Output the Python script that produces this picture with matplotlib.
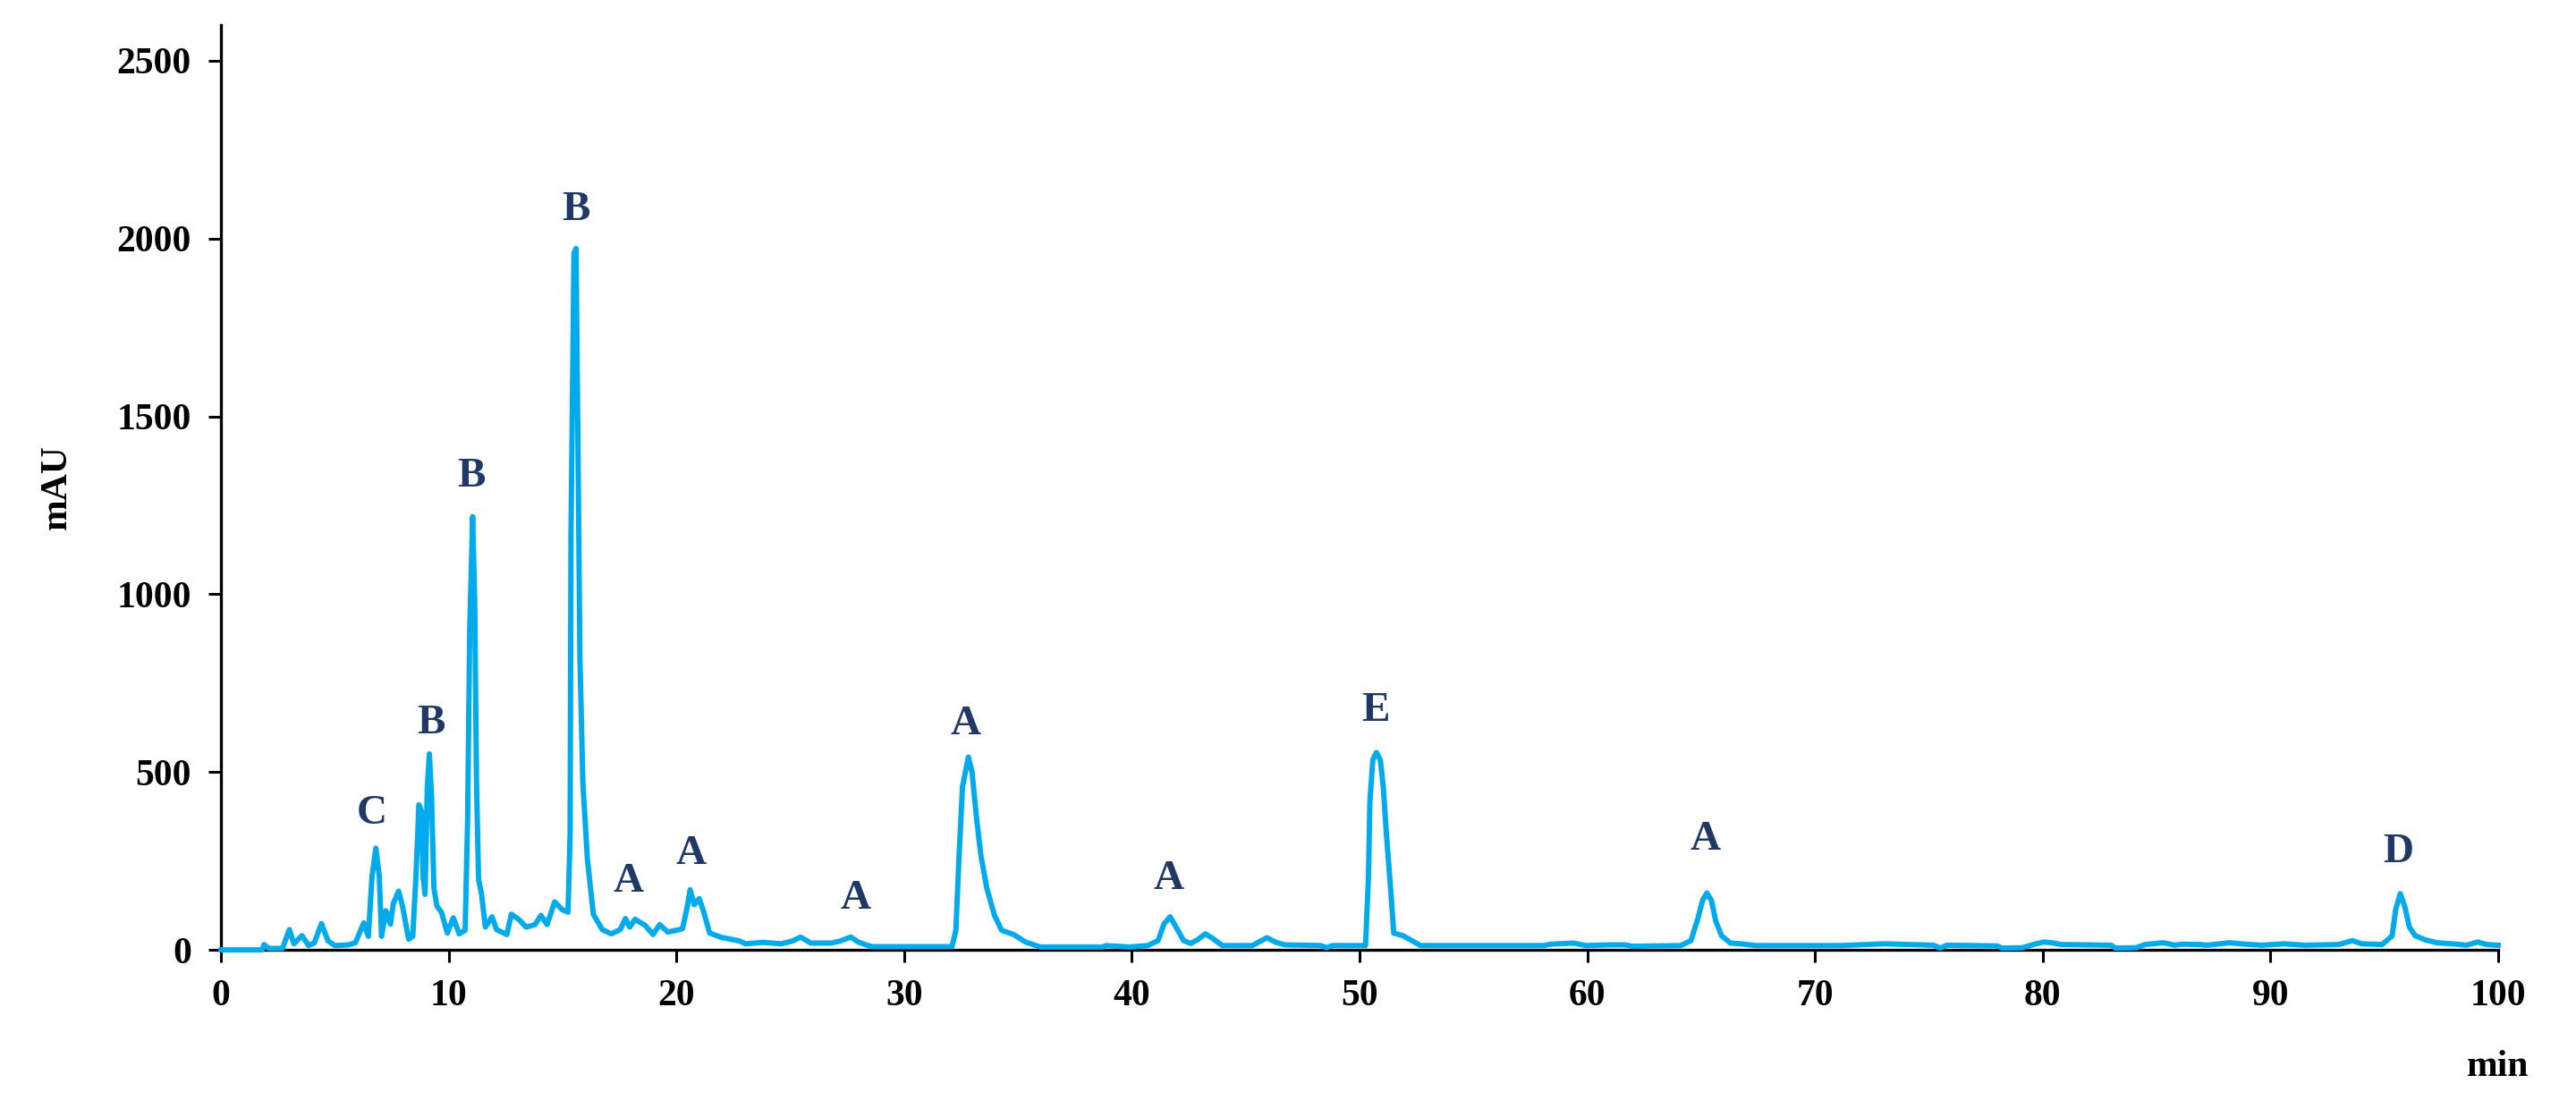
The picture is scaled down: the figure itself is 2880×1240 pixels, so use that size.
import matplotlib
matplotlib.use("Agg")
import matplotlib.pyplot as plt

plt.rcParams['font.family'] = ['Liberation Serif', 'DejaVu Serif']
plt.rcParams['font.weight'] = 'bold'

# retention time (min) and absorbance (mAU)
t_min = [0, 1.8, 1.89, 2.1, 2.7, 3.0, 3.2, 3.55, 3.85, 4.1, 4.41, 4.7, 5.0, 5.6, 5.9,
         6.27, 6.47, 6.63, 6.8, 6.95, 7.05, 7.24, 7.44, 7.57, 7.8, 7.97, 8.24, 8.42,
         8.56, 8.69, 8.8, 8.87, 8.96, 9.06, 9.15, 9.24, 9.35, 9.48, 9.68, 9.94, 10.2,
         10.46, 10.72, 10.83, 10.92, 11.05, 11.14, 11.22, 11.31, 11.44, 11.61, 11.9,
         12.1, 12.55, 12.75, 13.07, 13.4, 13.79, 14.05, 14.32, 14.65, 14.98, 15.24,
         15.33, 15.37, 15.5, 15.59, 15.69, 15.76, 15.89, 16.09, 16.35, 16.74, 17.14,
         17.53, 17.76, 17.95, 18.18, 18.64, 18.97, 19.26, 19.62, 20.14, 20.27, 20.48,
         20.6, 20.78, 21.0, 21.2, 21.46, 21.98, 22.77, 23.03, 23.8, 24.6, 25.1, 25.45,
         25.9, 26.8, 27.2, 27.66, 27.98, 28.37, 28.6, 32.1, 32.27, 32.4, 32.56, 32.82,
         32.98, 33.17, 33.37, 33.63, 33.96, 34.28, 34.81, 35.33, 35.98, 38.73, 38.86,
         39.91, 40.69, 41.15, 41.41, 41.68, 41.94, 42.27, 42.59, 42.92, 43.22, 43.51,
         43.97, 45.28, 45.6, 45.93, 46.33, 46.72, 48.3, 48.55, 48.81, 50.26, 50.39,
         50.45, 50.58, 50.74, 50.91, 51.04, 51.17, 51.37, 51.5, 51.9, 52.68, 58.1,
         58.37, 59.4, 59.93, 60.98, 61.63, 62.0, 64.1, 64.55, 64.86, 65.06, 65.25,
         65.45, 65.64, 65.9, 66.29, 66.75, 67.4, 71.1, 73.07, 75.2, 75.5, 75.8, 78.0,
         78.2, 79.1, 79.7, 80.05, 80.4, 80.8, 83.0, 83.2, 84.1, 84.5, 85.3, 85.8, 86.1,
         86.9, 87.2, 88.2, 88.7, 89.6, 90.6, 91.5, 93.0, 93.6, 94.0, 94.9, 95.34, 95.5,
         95.7, 95.9, 96.1, 96.35, 96.8, 97.3, 98.2, 98.6, 99.1, 99.5, 100]
mau = [0, 0, 15, 4, 4, 57, 17, 40, 12, 20, 74, 25, 12, 14, 20,
       76, 38, 206, 286, 206, 38, 110, 72, 131, 165, 123, 30, 38,
       206, 408, 391, 206, 156, 458, 551, 440, 173, 123, 106, 47, 90,
       45, 55, 369, 894, 1218, 980, 468, 199, 156, 64, 93,
       57, 43, 100, 86, 64, 71, 97, 71, 135, 113, 106,
       327, 1179, 1958, 1972, 1320, 824, 469, 255, 100, 57, 45,
       57, 88, 64, 86, 68, 43, 71, 50, 57, 60, 123,
       169, 127, 144, 106, 47, 35, 25, 17, 21, 17, 25, 36,
       19, 19, 25, 36, 22, 13, 9, 9, 55, 249, 458, 542,
       500, 375, 265, 173, 98, 55, 43, 22, 8, 8, 12,
       8, 12, 26, 73, 93, 64, 26, 18, 30, 45, 34,
       12, 12, 23, 34, 21, 14, 12, 6, 12, 12, 206,
       416, 534, 555, 534, 458, 332, 165, 47, 40, 12, 12,
       16, 19, 12, 14, 14, 10, 12, 26, 89, 139, 160,
       139, 81, 39, 19, 17, 12, 12, 17, 13, 5, 13, 11,
       5, 6, 17, 22, 20, 15, 13, 5, 6, 15, 20, 13, 16,
       15, 13, 20, 17, 13, 17, 13, 15, 26, 17, 15, 39, 114,
       158, 121, 64, 40, 28, 20, 16, 13, 22, 15, 13]

# peak annotations
peak_labels = ['C', 'B', 'B', 'B', 'A', 'A', 'A', 'A', 'A', 'E', 'A', 'D']
label_t = [6.63, 9.22, 10.99, 15.59, 17.9, 20.62, 27.85, 32.7, 41.62, 50.72, 65.19, 95.6]
label_v = [383, 636, 1330, 2079, 191, 270, 144, 635, 198, 672, 309, 274]

fig = plt.figure(figsize=(28.8, 12.4), dpi=100)
ax = fig.add_axes([0.0858, 0.1435, 0.884, 0.8339])

ax.plot(t_min, mau, color='#00AAEB', lw=4.3, clip_on=False, zorder=3,
        solid_joinstyle='round')

for lab, x, y in zip(peak_labels, label_t, label_v):
    ax.text(x, y, lab, ha='center', va='center', fontsize=34,
            fontweight='bold', color='#1F3864')

ax.set_xlim(0, 100)
ax.set_ylim(0, 2600)
ax.set_xticks(range(0, 101, 10))
ax.set_yticks(range(0, 2501, 500))
for s in ['top', 'right']:
    ax.spines[s].set_visible(False)
for s in ['left', 'bottom']:
    ax.spines[s].set_linewidth(2.4)
ax.tick_params(direction='out', length=10, width=2.2, labelsize=30, pad=14)

ax.set_ylabel('mAU', fontsize=30, fontweight='bold')
ax.yaxis.set_label_coords(-0.0644, 0.5)
ax.text(100, -0.127, 'min', transform=ax.get_xaxis_transform(), ha='center',
        va='center', fontsize=30, fontweight='bold')

fig.savefig('out.png', dpi=100)
